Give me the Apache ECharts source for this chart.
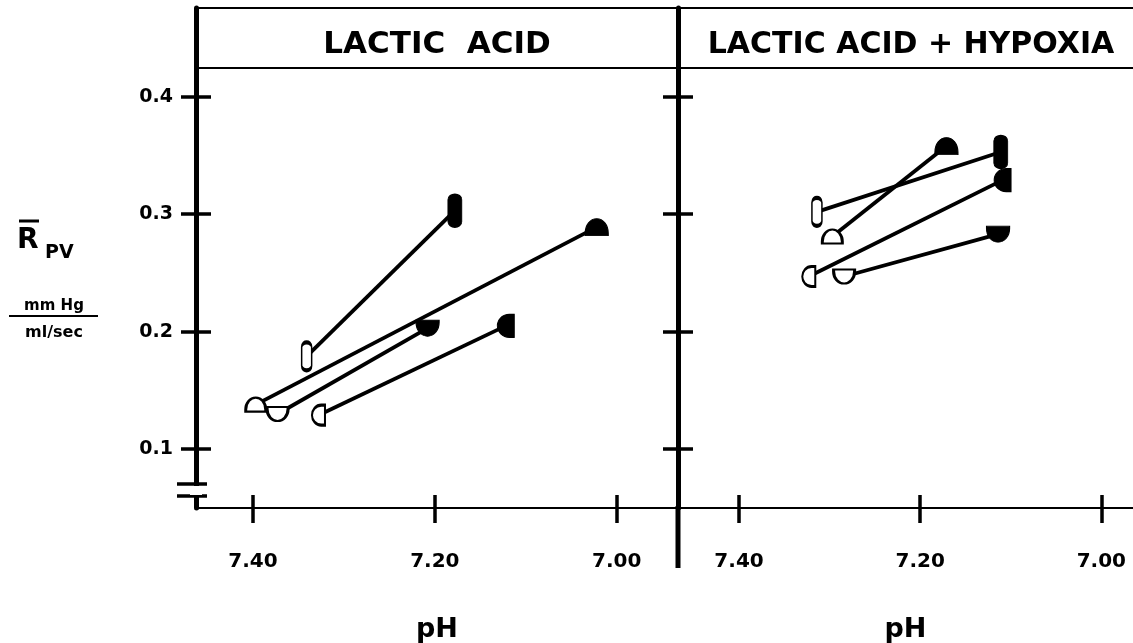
<!DOCTYPE html>
<html>
<head>
<meta charset="utf-8">
<script src="https://cdn.jsdelivr.net/npm/echarts@6/dist/echarts.min.js"></script>
<style>
html,body{margin:0;padding:0;background:#fff;}
#c{width:1133px;height:643px;}
</style>
</head>
<body>
<div id="c"></div>
<script>
// ---- data ----
const panelTitles = ['LACTIC  ACID', 'LACTIC ACID + HYPOXIA'];
const subjects = ['pill', 'dome', 'bowl', 'dleft'];
// Lactic acid panel: control (open) and after acid (filled)
const lacticControlPH = [7.341, 7.397, 7.373, 7.328];
const lacticControlR  = [0.179, 0.138, 0.130, 0.129];
const lacticAcidPH    = [7.178, 7.022, 7.208, 7.122];
const lacticAcidR     = [0.303, 0.289, 0.203, 0.205];
// Lactic acid + hypoxia panel
const hypoxSubjects   = ['pill', 'dome', 'dleft', 'bowl'];
const hypoxControlPH  = [7.314, 7.297, 7.323, 7.284];
const hypoxControlR   = [0.302, 0.281, 0.247, 0.247];
const hypoxAcidPH     = [7.111, 7.171, 7.109, 7.114];
const hypoxAcidR      = [0.353, 0.358, 0.329, 0.283];
// tick labels
const pHTicks = [7.40, 7.20, 7.00];
const rTicks  = [0.1, 0.2, 0.3, 0.4];

// ---- styles ----
const FONT = 'DejaVu Sans';
const shapes = {
  pill:  'path://M0,5A5,5,0,0,1,10,5L10,25A5,5,0,0,1,0,25Z',
  dome:  'path://M0,14L0,12C0,5,5,0,11,0C17,0,22,5,22,12L22,14Z',
  bowl:  'path://M0,0L22,0L22,2C22,9,17,14,11,14C5,14,0,9,0,2Z',
  dleft: 'path://M14,0L14,20L10,20C4,20,0,15,0,10C0,5,4,0,10,0Z'
};
const openSize  = {pill:[10,28], dome:[20,14], bowl:[21,14], dleft:[13,20]};
const fillSize  = {pill:[14,33], dome:[23,17], bowl:[23,16], dleft:[17,23]};
const openStyle = {color:'#fff', borderColor:'#000', borderWidth:2.5};
const fillStyle = {color:'#000', borderColor:'#000', borderWidth:1};

function makeSeries(idx, subs, cPH, cR, aPH, aR){
  return subs.map((s, i) => ({
    type:'line', xAxisIndex: idx*2, yAxisIndex: idx*2,
    silent:true, z:3,
    lineStyle:{color:'#000', width:3.8},
    data:[
      {value:[cPH[i], cR[i]], symbol:shapes[s], symbolSize:openSize[s], itemStyle:openStyle},
      {value:[aPH[i], aR[i]], symbol:shapes[s], symbolSize:fillSize[s], itemStyle:fillStyle}
    ],
    showSymbol:true, symbolKeepAspect:false
  }));
}

const grids = [
  {left:196, top:8, width:482, height:500, containLabel:false, outerBoundsMode:'none'},
  {left:678, top:8, width:455, height:500, containLabel:false, outerBoundsMode:'none'}
];
const xRanges = [[6.9326, 7.4627],[6.965, 7.4674]];
const yMin = 0.05, yMax = 0.4755;

const xAxes = [], yAxes = [];
[0,1].forEach(g => {
  xAxes.push({
    type:'value', gridIndex:g, position:'bottom', inverse:true, min:xRanges[g][0], max:xRanges[g][1],
    splitLine:{show:false},
    axisLine:{show:true, lineStyle:{color:'#000', width:2}},
    axisTick:{show:true, customValues:pHTicks, length:15, lineStyle:{color:'#000', width:3.5}},
    axisLabel:{show:true, customValues:pHTicks, margin:44, color:'#000',
      fontFamily:FONT, fontWeight:'bold', fontSize:20, formatter:v=>v.toFixed(2)},
    name:'pH', nameLocation:'middle', nameGap:108,
    nameTextStyle:{color:'#000', fontFamily:FONT, fontWeight:'bold', fontSize:27}
  });
  xAxes.push({
    type:'value', gridIndex:g, position:'bottom', inverse:true, min:xRanges[g][0], max:xRanges[g][1],
    splitLine:{show:false}, axisLine:{show:false}, axisLabel:{show:false},
    axisTick:{show:true, inside:true, customValues:pHTicks, length:13, lineStyle:{color:'#000', width:3.5}}
  });
  yAxes.push({
    type:'value', gridIndex:g, position:'left', min:yMin, max:yMax,
    splitLine:{show:false},
    axisLine:{show:true, lineStyle:{color:'#000', width:5}},
    axisTick:{show:true, customValues:rTicks, length:15, lineStyle:{color:'#000', width:3.5}},
    axisLabel:{show:g===0, customValues:rTicks, margin:23, color:'#000',
      fontFamily:FONT, fontWeight:'bold', fontSize:19, formatter:v=>v.toFixed(1)}
  });
  yAxes.push({
    type:'value', gridIndex:g, position:'left', min:yMin, max:yMax,
    splitLine:{show:false}, axisLine:{show:false}, axisLabel:{show:false},
    axisTick:{show:true, inside:true, customValues:rTicks, length:15, lineStyle:{color:'#000', width:3.5}}
  });
});

const series = [].concat(
  makeSeries(0, subjects, lacticControlPH, lacticControlR, lacticAcidPH, lacticAcidR),
  makeSeries(1, hypoxSubjects, hypoxControlPH, hypoxControlR, hypoxAcidPH, hypoxAcidR)
);

const txt = (t, x, y, size, align) => ({
  type:'text', x:x, y:y, z:10,
  style:{text:t, fill:'#000', font:'bold '+size+'px "'+FONT+'"', textAlign:align||'left', textVerticalAlign:'middle'}
});
const line = (x1,y1,x2,y2,w) => ({type:'line', z:10, shape:{x1,y1,x2,y2}, style:{stroke:'#000', lineWidth:w}});

const graphic = [
  line(196, 8, 1133, 8, 2),
  line(196, 68, 1133, 68, 2),
  line(678, 506, 678, 568, 5),
  {type:'rect', z:11, shape:{x:190, y:486, width:12, height:9}, style:{fill:'#fff'}},
  line(177, 484, 207, 484, 3.5),
  line(177, 496, 207, 496, 3.5),
  txt(panelTitles[0], 437, 45, 31, 'center'),
  txt(panelTitles[1], 911, 45, 30, 'center'),
  // y-axis title R-bar PV
  line(19, 221, 39, 221, 3),
  txt('R', 17, 241, 28, 'left'),
  txt('PV', 45, 253, 19, 'left'),
  txt('mm Hg', 54, 306, 15, 'center'),
  line(9, 316, 98, 316, 2),
  txt('ml/sec', 54, 333, 16, 'center')
];

const chart = echarts.init(document.getElementById('c'), null, {renderer:'canvas'});
chart.setOption({
  backgroundColor:'#fff',
  animation:false,
  grid:grids,
  xAxis:xAxes,
  yAxis:yAxes,
  series:series,
  graphic:graphic
});
</script>
</body>
</html>
